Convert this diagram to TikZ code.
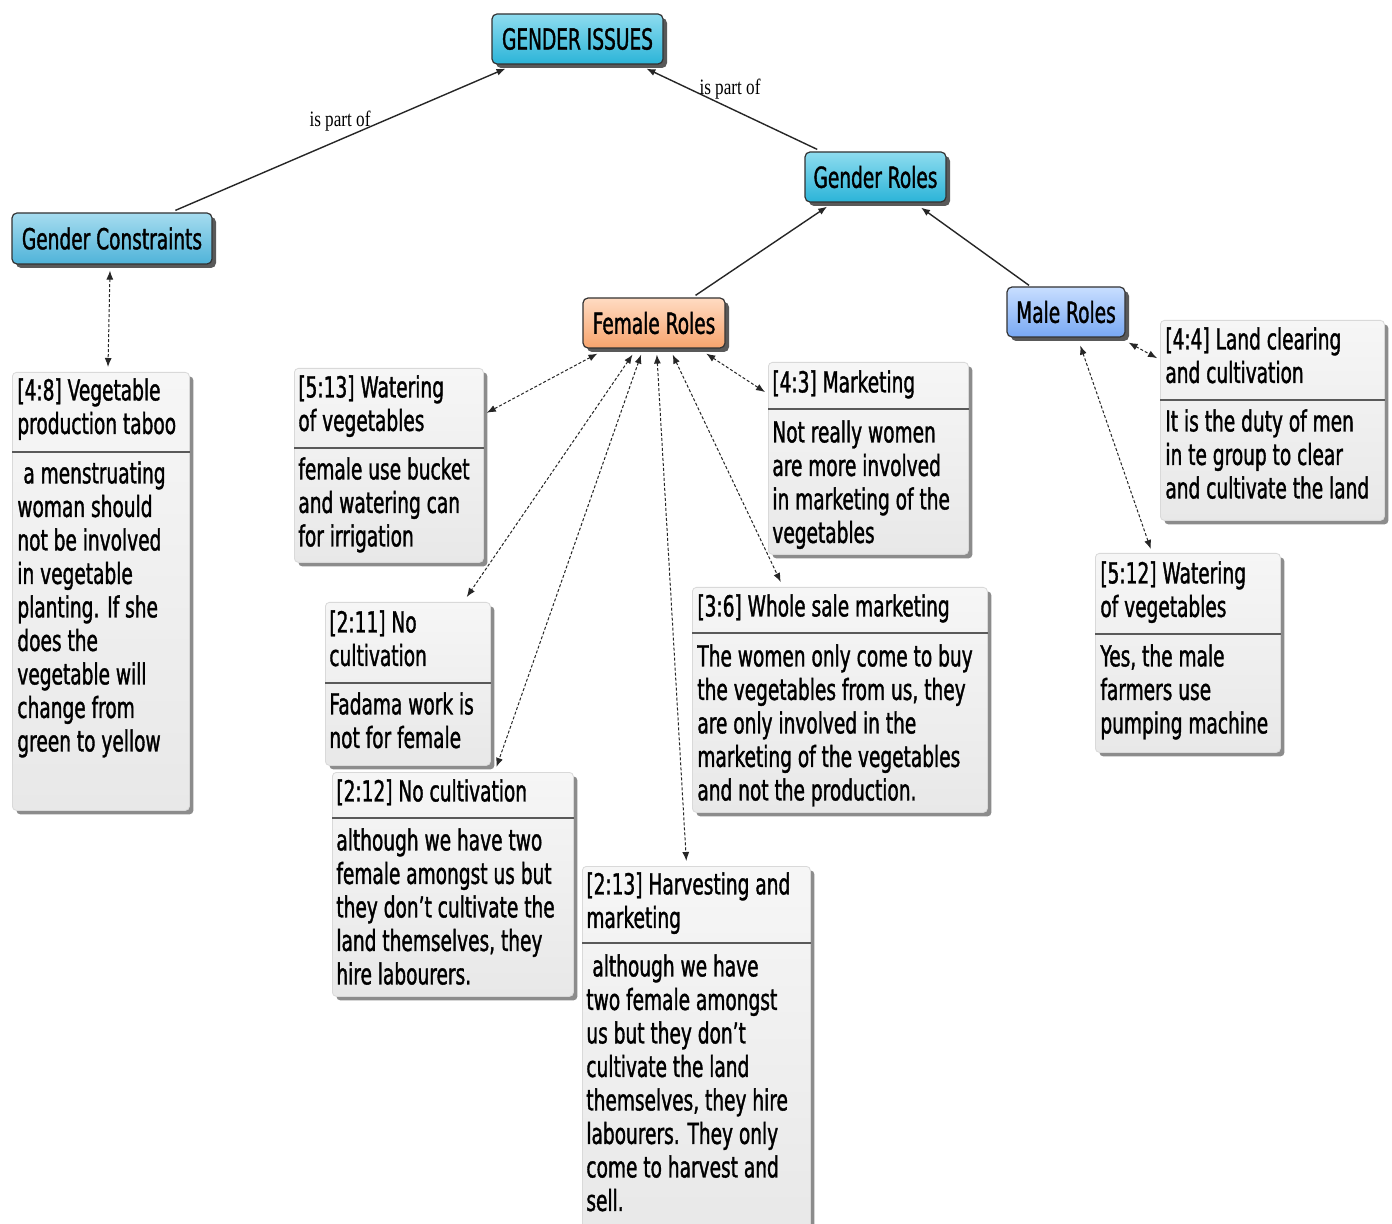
\documentclass[tikz,border=0pt]{standalone}
\usepackage{fontspec}
\setmainfont[FakeStretch=0.64,FakeBold=1.2]{DejaVu Sans}
\newfontfamily\lblfont[FakeStretch=0.78]{Liberation Serif}
\usetikzlibrary{shadows,calc,arrows.meta}
\definecolor{cyantop}{HTML}{8EDCEF}
\definecolor{cyanbot}{HTML}{2BB4D8}
\definecolor{gctop}{HTML}{A6DCEF}
\definecolor{gcbot}{HTML}{4FB3D9}
\definecolor{orangetop}{HTML}{FFDBC2}
\definecolor{orangebot}{HTML}{F7A46D}
\definecolor{bluetop}{HTML}{C8DEFF}
\definecolor{bluebot}{HTML}{78A8F3}
\definecolor{memotop}{HTML}{F6F6F6}
\definecolor{memobot}{HTML}{E8E8E8}
\tikzset{
  concept/.style={draw=black!80, line width=0.6pt, rounded corners=2.5pt, inner sep=0pt,
    font=\fontsize{14.5}{16.5}\selectfont,
    drop shadow={shadow xshift=2pt, shadow yshift=-2pt, fill=black!65, opacity=1}},
  memo/.style={draw=black!15, line width=0.4pt, rounded corners=2pt, inner sep=0pt,
    top color=memotop, bottom color=memobot,
    drop shadow={shadow xshift=2pt, shadow yshift=-2pt, fill=black!45, opacity=1}},
  memotext/.style={anchor=north west, inner sep=0pt, align=left,
    font=\fontsize{14.5}{16.75}\selectfont},
  sepline/.style={draw=black!65, line width=1pt},
  link/.style={draw=black!85, line width=0.7pt, -{Latex[length=4.5pt,width=3.5pt]}},
  dlink/.style={draw=black!85, line width=0.5pt, dash pattern=on 1.5pt off 1pt,
    {Latex[length=4.5pt,width=3.5pt]}-{Latex[length=4.5pt,width=3.5pt]}},
  lbl/.style={font=\lblfont\fontsize{11}{12}\selectfont, inner sep=0pt}
}
\begin{document}
\begin{tikzpicture}[x=0.5pt,y=-0.5pt]
\fill[white] (0,0) rectangle (1392,1224);
\useasboundingbox (0,0) rectangle (1392,1224);

% concepts
\node[concept, top color=cyantop, bottom color=cyanbot, minimum width=85.5pt, minimum height=25pt] (gi) at (577.5,39) {GENDER ISSUES};
\node[concept, top color=cyantop, bottom color=cyanbot, minimum width=70.5pt, minimum height=25pt] (gr) at (875.5,177) {Gender Roles};
\node[concept, top color=gctop, bottom color=gcbot, minimum width=100pt, minimum height=25.5pt] (gc) at (112,238.5) {Gender Constraints};
\node[concept, top color=orangetop, bottom color=orangebot, minimum width=71pt, minimum height=25pt] (fr) at (654,323) {Female Roles};
\node[concept, top color=bluetop, bottom color=bluebot, minimum width=59pt, minimum height=25pt] (mr) at (1066,312) {Male Roles};

% memos
\node[memo, anchor=north west, minimum width=88.5pt, minimum height=219pt] (m48) at (12,372) {};
\node[memo, anchor=north west, minimum width=94.5pt, minimum height=97pt] (m513) at (294,368) {};
\node[memo, anchor=north west, minimum width=100pt, minimum height=96pt] (m43) at (768,362) {};
\node[memo, anchor=north west, minimum width=112pt, minimum height=100pt] (m44) at (1160,320) {};
\node[memo, anchor=north west, minimum width=82.5pt, minimum height=81.5pt] (m211) at (325,602) {};
\node[memo, anchor=north west, minimum width=147.5pt, minimum height=112.5pt] (m36) at (692,587) {};
\node[memo, anchor=north west, minimum width=92.5pt, minimum height=99.5pt] (m512) at (1095,553) {};
\node[memo, anchor=north west, minimum width=120.5pt, minimum height=112pt] (m212) at (332,772) {};
\node[memo, anchor=north west, minimum width=114pt, minimum height=185pt] (m213) at (582,866) {};

% separators
\draw[sepline] (m48.west |- 0,452) -- (m48.east |- 0,452);
\draw[sepline] (m513.west |- 0,448) -- (m513.east |- 0,448);
\draw[sepline] (m43.west |- 0,409) -- (m43.east |- 0,409);
\draw[sepline] (m44.west |- 0,400) -- (m44.east |- 0,400);
\draw[sepline] (m211.west |- 0,683) -- (m211.east |- 0,683);
\draw[sepline] (m36.west |- 0,633) -- (m36.east |- 0,633);
\draw[sepline] (m512.west |- 0,634) -- (m512.east |- 0,634);
\draw[sepline] (m212.west |- 0,818) -- (m212.east |- 0,818);
\draw[sepline] (m213.west |- 0,943) -- (m213.east |- 0,943);

% memo texts
\node[memotext] (t48) at (17,378) {[4:8] Vegetable\\production taboo};
\node[memotext] (b48) at (17,461) {\hspace{3pt}a menstruating\\woman should\\not be involved\\in vegetable\\planting. If she\\does the\\vegetable will\\change from\\green to yellow};
\node[memotext] (t513) at (298,375) {[5:13] Watering\\of vegetables};
\node[memotext] (b513) at (298,457) {female use bucket\\and watering can\\for irrigation};
\node[memotext] (t43) at (772,370) {[4:3] Marketing};
\node[memotext] (b43) at (772,420) {Not really women\\are more involved\\in marketing of the\\vegetables};
\node[memotext] (t44) at (1165,327) {[4:4] Land clearing\\and cultivation};
\node[memotext] (b44) at (1165,409) {It is the duty of men\\in te group to clear\\and cultivate the land};
\node[memotext] (t211) at (329,610) {[2:11] No\\cultivation};
\node[memotext] (b211) at (329,692) {Fadama work is\\not for female};
\node[memotext] (t36) at (697,594) {[3:6] Whole sale marketing};
\node[memotext] (b36) at (697,644) {The women only come to buy\\the vegetables from us, they\\are only involved in the\\marketing of the vegetables\\and not the production.};
\node[memotext] (t512) at (1100,561) {[5:12] Watering\\of vegetables};
\node[memotext] (b512) at (1100,644) {Yes, the male\\farmers use\\pumping machine};
\node[memotext] (t212) at (336,779) {[2:12] No cultivation};
\node[memotext] (b212) at (336,828) {although we have two\\female amongst us but\\they don’t cultivate the\\land themselves, they\\hire labourers.};
\node[memotext] (t213) at (586,872) {[2:13] Harvesting and\\marketing};
\node[memotext] (b213) at (586,954) {\hspace{3pt}although we have\\two female amongst\\us but they don’t\\cultivate the land\\themselves, they hire\\labourers. They only\\come to harvest and\\sell.};

% solid links
\draw[link] ($(gc.north west)!0.815!(gc.north east)+(0,-2)$) -- ($(gi.south west)!0.082!(gi.south east)+(0,4)$);
\draw[link] ($(gr.north west)!0.09!(gr.north east)+(0,-2)$) -- ($(gi.south west)!0.90!(gi.south east)+(0,4)$);
\draw[link] ($(fr.north west)!0.79!(fr.north east)+(0,-2)$) -- ($(gr.south west)!0.16!(gr.south east)+(0,4)$);
\draw[link] ($(mr.north west)!0.19!(mr.north east)+(0,-1)$) -- ($(gr.south west)!0.82!(gr.south east)+(0,5)$);
\node[lbl] (l1) at (340,121) {is part of};
\node[lbl] (l2) at (730,89) {is part of};

% dashed links
\draw[dlink] ($(gc.south west)!0.49!(gc.south east)+(0,6)$) -- ($(m48.north west)!0.54!(m48.north east)+(0,-5)$);
\draw[dlink] ($(fr.south west)!0.105!(fr.south east)+(0,5)$) -- ($(m513.north east)!0.23!(m513.south east)+(3,0)$);
\draw[dlink] ($(fr.south west)!0.35!(fr.south east)+(0,6)$) -- ($(m211.north west)!0.855!(m211.north east)+(0,-5)$);
\draw[dlink] ($(fr.south west)!0.41!(fr.south east)+(0,6)$) -- ($(m212.north west)!0.68!(m212.north east)+(0,-5)$);
\draw[dlink] ($(fr.south west)!0.52!(fr.south east)+(0,6)$) -- ($(m213.north west)!0.456!(m213.north east)+(0,-5)$);
\draw[dlink] ($(fr.south west)!0.63!(fr.south east)+(0,6)$) -- ($(m36.north west)!0.30!(m36.north east)+(0,-5)$);
\draw[dlink] ($(fr.south west)!0.865!(fr.south east)+(0,5)$) -- ($(m43.north west)!0.156!(m43.south west)+(-3,0)$);
\draw[dlink] ($(mr.south east)+(3,5)$) -- ($(m44.north west)!0.19!(m44.south west)+(-3,0)$);
\draw[dlink] ($(mr.south west)!0.62!(mr.south east)+(0,8)$) -- ($(m512.north west)!0.30!(m512.north east)+(0,-4)$);
\end{tikzpicture}
\end{document}
